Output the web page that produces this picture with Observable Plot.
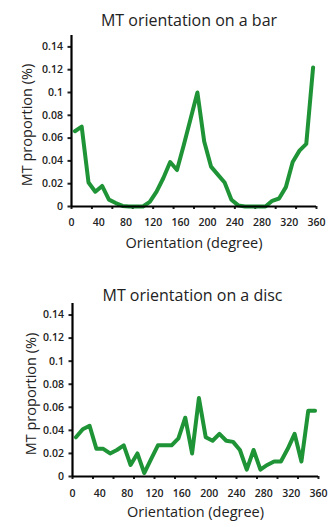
<!DOCTYPE html>
<html>
<head>
<meta charset="utf-8">
<script src="https://cdn.jsdelivr.net/npm/d3@7"></script>
<script src="https://cdn.jsdelivr.net/npm/@observablehq/plot@0.6"></script>
<style>
  html, body { margin: 0; padding: 0; background: #fff; }
  #wrap { width: 328px; height: 527px; overflow: hidden; }
  svg { display: block; }
</style>
</head>
<body>
<div id="wrap"></div>
<script>
// Orientation bins (degrees)
const orientation = [5, 15, 25, 35, 45, 55, 65, 75, 85, 95, 105, 115, 125, 135, 145, 155, 165, 175,
  185, 195, 205, 215, 225, 235, 245, 255, 265, 275, 285, 295, 305, 315, 325, 335, 345, 355];

// MT proportion on a bar
const barValues = [0.066, 0.070, 0.021, 0.013, 0.018, 0.006, 0.003, 0.0005, 0, 0, 0, 0.004, 0.013, 0.025,
  0.039, 0.032, 0.054, 0.077, 0.100, 0.057, 0.035, 0.028, 0.021, 0.006, 0.001, 0, 0, 0, 0, 0.005,
  0.007, 0.017, 0.039, 0.049, 0.055, 0.122];

// MT proportion on a disc
const discValues = [0.034, 0.041, 0.044, 0.024, 0.024, 0.020, 0.023, 0.027, 0.010, 0.020, 0.003, 0.015,
  0.027, 0.027, 0.027, 0.033, 0.051, 0.020, 0.068, 0.034, 0.031, 0.037, 0.031, 0.030, 0.023, 0.006,
  0.023, 0.006, 0.010, 0.013, 0.013, 0.024, 0.037, 0.013, 0.057, 0.057];

// Tick positions / labels
const xTickMarks = [0, 30, 60, 90, 120, 150, 180, 210, 240, 270, 300, 330, 360];
const xTickLabels = [0, 40, 80, 120, 160, 200, 240, 280, 320, 360];
const yTicks = [0, 0.02, 0.04, 0.06, 0.08, 0.1, 0.12, 0.14];

const titles = ["MT orientation on a bar", "MT orientation on a disc"];
const xLabel = "Orientation (degree)";
const yLabel = "MT proportion (%)";

const FONT = "'Open Sans', sans-serif";
const GREEN = "#1f9437";

function chart(values, title, opt) {
  const data = orientation.map((o, i) => ({o, v: values[i]}));
  return Plot.plot({
    width: 328,
    height: opt.height,
    marginTop: opt.mt,
    marginBottom: opt.mb,
    marginLeft: opt.ml,
    marginRight: opt.mr,
    style: {fontFamily: FONT, color: "#222", background: "white", overflow: "visible"},
    x: {domain: [0, 360], axis: null},
    y: {domain: [0, 0.15], axis: null},
    marks: [
      Plot.axisY({ticks: yTicks, tickSize: 3.5, tickPadding: 5, tickFormat: d3.format(".2~f"),
        fontSize: 10.5, fontWeight: 600, strokeWidth: 2, label: null, fill: "#222"}),
      Plot.axisX({ticks: xTickMarks, tickSize: 3, tickFormat: () => "", strokeWidth: 2, label: null}),
      Plot.axisX({ticks: xTickLabels, tickSize: 0, tickPadding: opt.tp, fontSize: 10.5, fontWeight: 600,
        label: null, fill: "#222"}),
      Plot.line(data, {x: "o", y: "v", stroke: GREEN, strokeWidth: 4, strokeLinejoin: "round", curve: "linear"}),
      Plot.ruleX([0], {stroke: "#000", strokeWidth: 2.2}),
      Plot.ruleY([0], {stroke: "#000", strokeWidth: 2.2}),
      Plot.text([title], {frameAnchor: "top", textAnchor: "middle", dx: opt.tdx, dy: opt.tdy, lineAnchor: "bottom",
        fontSize: 16, fill: "#222"}),
      Plot.text([xLabel], {frameAnchor: "bottom", textAnchor: "middle", dx: opt.xdx, dy: opt.xdy, lineAnchor: "bottom",
        fontSize: 14.5, fill: "#222"}),
      Plot.text([yLabel], {frameAnchor: "left", textAnchor: "middle", dx: opt.ydx, dy: opt.ydy, rotate: -90,
        lineAnchor: "middle", fontSize: 14.5, fill: "#222"})
    ]
  });
}

const wrap = document.getElementById("wrap");
wrap.appendChild(chart(barValues, titles[0], {
  height: 262, mt: 35, mb: 56, ml: 71, mr: 12, tp: 12,
  tdx: -5, tdy: -10, xdx: 0, xdy: 41, ydx: -44, ydy: 4
}));
wrap.appendChild(chart(discValues, titles[1], {
  height: 265, mt: 41, mb: 51, ml: 72, mr: 10, tp: 13,
  tdx: -3, tdy: -3, xdx: 0, xdy: 40, ydx: -41, ydy: 4
}));
</script>
</body>
</html>
